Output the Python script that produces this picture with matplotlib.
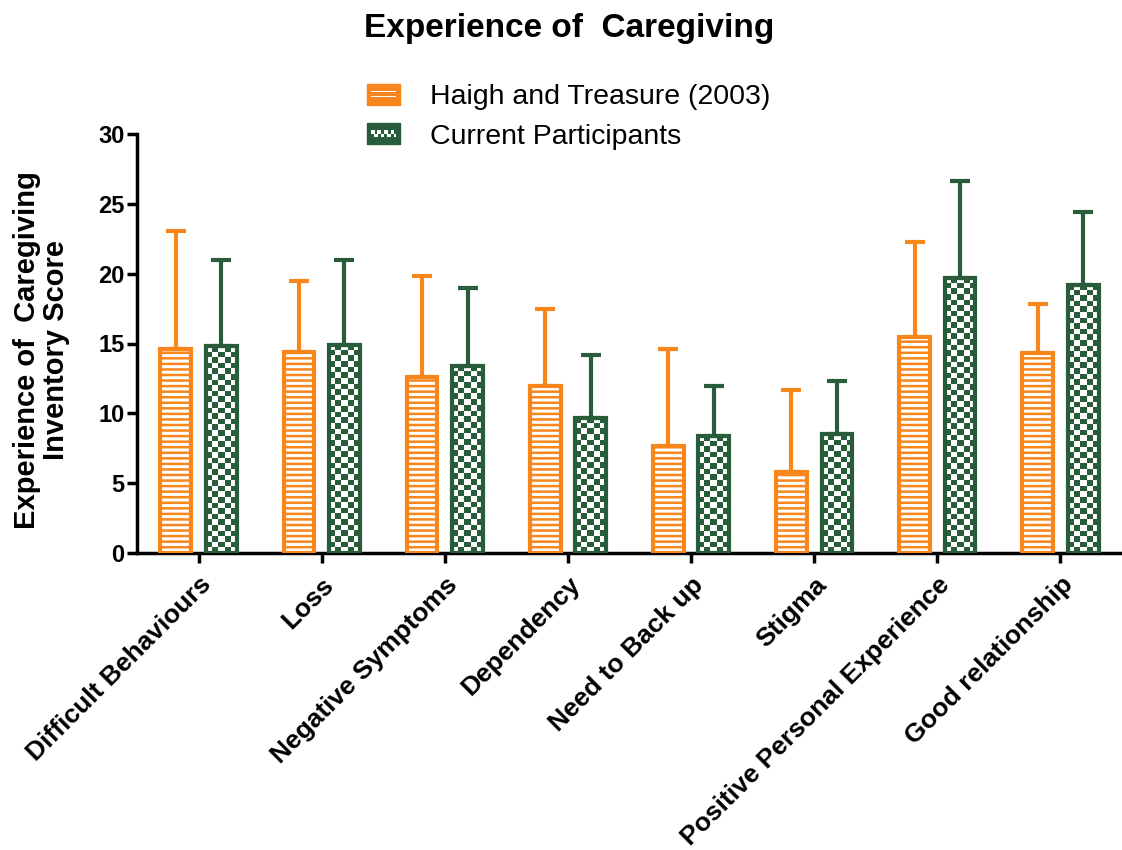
import numpy as np
import matplotlib
matplotlib.use("Agg")
import matplotlib.pyplot as plt
from matplotlib.colors import ListedColormap
from matplotlib.patches import Rectangle
from matplotlib.legend_handler import HandlerBase

plt.rcParams['font.family'] = ['Liberation Sans', 'DejaVu Sans']
plt.rcParams['hatch.linewidth'] = 1.8

categories = ["Difficult Behaviours", "Loss", "Negative Symptoms", "Dependency",
              "Need to Back up", "Stigma", "Positive Personal Experience",
              "Good relationship"]
haigh_mean = [14.6, 14.4, 12.6, 11.95, 7.65, 5.8, 15.5, 14.3]
haigh_sd = [8.45, 5.1, 7.2, 5.55, 6.95, 5.9, 6.8, 3.5]
current_mean = [14.8, 14.9, 13.4, 9.7, 8.4, 8.5, 19.7, 19.2]
current_sd = [6.2, 6.1, 5.6, 4.5, 3.55, 3.8, 6.9, 5.2]
series_labels = ["Haigh and Treasure (2003)", "Current Participants"]
yticks = [0, 5, 10, 15, 20, 25, 30]

ORANGE = "#F8861A"
GREEN = "#285C3B"

W, H = 1122, 850
fig = plt.figure(figsize=(W / 100, H / 100), dpi=100)
ax = fig.add_axes([137 / W, 297 / H, (W - 137) / W, 419 / H])

x = np.arange(len(categories))
bw = 0.25
off = 0.185

ax.set_xlim(-0.5, len(categories) - 0.5)
ax.set_ylim(0, 30)

# orange bars, horizontal line hatch
b1 = ax.bar(x - off, haigh_mean, bw, facecolor="white", edgecolor=ORANGE,
            linewidth=3, hatch="---", zorder=3)
# green bars, checkerboard fill drawn as images, outline on top
b2 = ax.bar(x + off, current_mean, bw, facecolor="none", edgecolor=GREEN,
            linewidth=3, zorder=3)

fig.canvas.draw()
px_per_x = ax.transData.transform((1, 0))[0] - ax.transData.transform((0, 0))[0]
px_per_y = ax.transData.transform((0, 1))[1] - ax.transData.transform((0, 0))[1]
cell = 5.6
cmap = ListedColormap(["white", GREEN])
for p in b2.patches:
    bx, by, bwid, bh = p.get_x(), p.get_y(), p.get_width(), p.get_height()
    nx = max(1, int(round(bwid * px_per_x / cell)))
    ny = max(1, int(round(bh * px_per_y / cell)))
    ii, jj = np.indices((ny, nx))
    arr = ((ii + jj) % 2).astype(float)
    ax.imshow(arr, cmap=cmap, vmin=0, vmax=1, extent=[bx, bx + bwid, by, by + bh],
              origin="lower", aspect="auto", interpolation="nearest", zorder=2)

ax.errorbar(x - off, haigh_mean, yerr=[np.zeros(len(x)), haigh_sd], fmt="none",
            ecolor=ORANGE, elinewidth=3, capsize=7, capthick=3, zorder=2.5)
ax.errorbar(x + off, current_mean, yerr=[np.zeros(len(x)), current_sd], fmt="none",
            ecolor=GREEN, elinewidth=3, capsize=7, capthick=3, zorder=2.5)

ax.set_xlim(-0.5, len(categories) - 0.5)
ax.set_ylim(0, 30)

for s in ["top", "right"]:
    ax.spines[s].set_visible(False)
for s in ["left", "bottom"]:
    ax.spines[s].set_linewidth(2.5)
ax.set_yticks(yticks)
ax.set_yticklabels([str(v) for v in yticks], fontsize=17, fontweight="bold")
ax.tick_params(axis="y", length=7, width=2.5, pad=2)
ax.tick_params(axis="x", length=7, width=2.5, pad=7)
ax.set_xticks(x)
ax.set_xticklabels(categories, rotation=45, ha="right", va="top",
                   rotation_mode="anchor", fontsize=19, fontweight="bold")

ax.set_ylabel("Experience of  Caregiving\nInventory Score", fontsize=21,
              fontweight="bold", linespacing=1.05)
ax.yaxis.set_label_coords(-0.068, 0.485)

fig.text(0.507, 0.966, "Experience of  Caregiving", ha="center", va="center",
         fontsize=24, fontweight="bold")


class OrangeHandler(HandlerBase):
    def create_artists(self, legend, orig_handle, xd, yd, width, height, fontsize, trans):
        x0, y0 = -xd, -yd
        arts = [Rectangle((x0, y0), width, height, facecolor=ORANGE, edgecolor=ORANGE,
                          transform=trans)]
        for fy in (0.36, 0.60):
            arts.append(Rectangle((x0 + 0.12 * width, y0 + fy * height), 0.76 * width,
                                  0.08 * height, facecolor="white", edgecolor="none",
                                  transform=trans))
        return arts


class GreenHandler(HandlerBase):
    def create_artists(self, legend, orig_handle, xd, yd, width, height, fontsize, trans):
        x0, y0 = -xd, -yd
        arts = [Rectangle((x0, y0), width, height, facecolor=GREEN, edgecolor=GREEN,
                          transform=trans)]
        sq = 0.11
        for k in range(4):
            arts.append(Rectangle((x0 + (0.12 + 0.2 * k) * width, y0 + 0.5 * height),
                                  sq * width, 0.17 * height, facecolor="white",
                                  edgecolor="none", transform=trans))
        for k in range(4):
            arts.append(Rectangle((x0 + (0.22 + 0.2 * k) * width, y0 + 0.33 * height),
                                  sq * width * (0.6 if k == 3 else 1), 0.17 * height,
                                  facecolor="white", edgecolor="none", transform=trans))
        return arts


h1 = Rectangle((0, 0), 1, 1)
h2 = Rectangle((0, 0), 1, 1)
fig.legend([h1, h2], series_labels, loc="upper left",
           bbox_to_anchor=(367 / W, 1 - 84 / H), frameon=False, fontsize=20.5,
           handlelength=1.15, handleheight=0.75, handletextpad=1.05,
           labelspacing=0.46, borderpad=0, borderaxespad=0,
           handler_map={h1: OrangeHandler(), h2: GreenHandler()})

fig.savefig("out.png", dpi=100)
